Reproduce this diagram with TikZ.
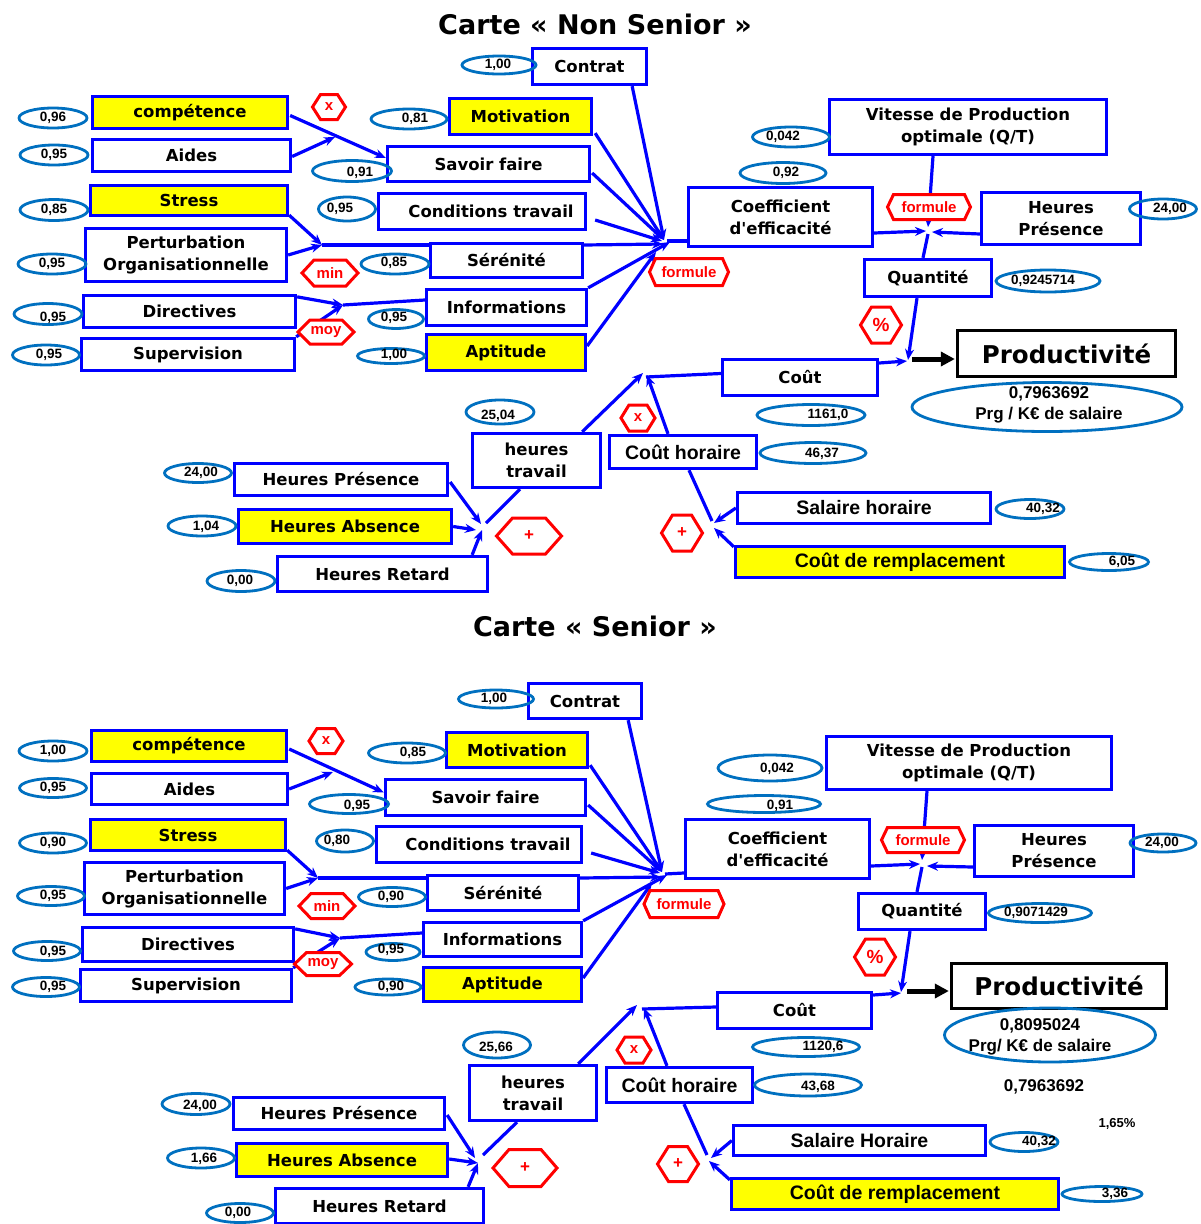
\documentclass[tikz,border=0pt]{standalone}
\usepackage{fontspec}
\setmainfont{DejaVu Sans}
\newfontfamily\libs{Liberation Sans}
\usetikzlibrary{shapes.geometric,arrows.meta,calc}
\definecolor{boxblue}{RGB}{0,0,255}
\definecolor{ellblue}{RGB}{0,112,192}
\definecolor{hexred}{RGB}{255,0,0}
\definecolor{yel}{RGB}{255,255,0}
\newcommand\apos{\XeTeXglyph\XeTeXglyphindex "quotesingle"\relax}
% box: style, name, x1, y1, x2, y2, text
\newcommand\bx[7]{\node[#1, minimum width={#5-#3-3}, minimum height={#6-#4-3}] (#2) at ({(#3+#5)/2},{(#4+#6)/2}) {#7};}
% ellipse: name, cx, cy, w, h, tx, ty, text
\newcommand\el[8]{\node[ell, minimum width={#4-3}, minimum height={#5-3}] (#1) at (#2,#3) {};\node[num] (#1t) at (#6,#7) {#8};}
% hexagon: name, cx, cy, w, h, depth, text
\newcommand\hx[7]{\path[hex] ({#2-(#4-3)/2},#3) -- ({#2-(#4-3)/2+#6},{#3-(#5-3)/2}) -- ({#2+(#4-3)/2-#6},{#3-(#5-3)/2}) -- ({#2+(#4-3)/2},#3) -- ({#2+(#4-3)/2-#6},{#3+(#5-3)/2}) -- ({#2-(#4-3)/2+#6},{#3+(#5-3)/2}) -- cycle;\node[hext] (#1) at (#2,#3) {#7};}
\begin{document}
\begin{tikzpicture}[x=1pt,y=-1pt,
  box/.style={draw=boxblue, line width=3.3pt, fill=white, inner sep=0pt, align=center, font=\bfseries\fontsize{16.5}{22}\selectfont},
  ybox/.style={box, fill=yel},
  abox/.style={box, font=\libs\bfseries\fontsize{19.5}{22}\selectfont},
  aybox/.style={abox, fill=yel},
  pbox/.style={box, draw=black, font=\bfseries\fontsize{24.5}{28}\selectfont},
  ell/.style={ellipse, draw=ellblue, line width=2.8pt, inner sep=0pt},
  num/.style={inner sep=0pt, font=\libs\bfseries\fontsize{13.5}{15}\selectfont},
  bignum/.style={inner sep=0pt, align=center, font=\libs\bfseries\fontsize{17}{21.5}\selectfont},
  hex/.style={draw=hexred, line width=3pt, fill=white},
  hext/.style={inner sep=0pt, text=hexred, font=\libs\bfseries\fontsize{15}{16}\selectfont},
  arr/.style={draw=boxblue, line width=3.2pt, -{Stealth[length=11pt,width=9pt]}},
  ln/.style={draw=boxblue, line width=3.2pt},
  blk/.style={draw=black, line width=5pt, -{Triangle[length=14pt,width=14pt]}},
  title/.style={inner sep=0pt, font=\bfseries\fontsize{27}{30}\selectfont}]
\useasboundingbox (0,0) rectangle (1201,1224);
\clip (0,0) rectangle (1201,1224);
\fill[white] (0,0) rectangle (1201,1224);

%================ Non Senior =================
\node[title] (t1) at (595,24) {Carte « Non Senior »};
\bx{box}{contrat}{531}{47}{648}{86}{Contrat}
\bx{ybox}{comp}{91}{95}{289}{130}{compétence}
\bx{box}{aides}{91}{138}{292}{173}{Aides}
\bx{ybox}{stress}{89}{184}{289}{217}{Stress}
\bx{box}{pert}{84}{227}{288}{283}{Perturbation\\Organisationnelle}
\bx{box}{direc}{82}{294}{297}{329}{Directives}
\bx{box}{superv}{80}{337}{296}{372}{Supervision}
\bx{ybox}{motiv}{448}{97}{593}{136}{Motivation}
\bx{box}{savoir}{386}{145}{591}{183}{Savoir faire}
\bx{box}{cond}{377}{192}{587}{231}{\hspace*{18pt}Conditions travail}
\bx{box}{seren}{429}{242}{584}{279}{Sérénité}
\bx{box}{infos}{425}{288}{588}{327}{Informations}
\bx{ybox}{apti}{425}{333}{587}{372}{Aptitude}
\bx{box}{coef}{687}{186}{874}{248}{Coefficient\\d\apos efficacité}
\bx{box}{vitesse}{828}{98}{1108}{156}{Vitesse de Production\\optimale (Q/T)}
\bx{box}{hpres}{980}{191}{1142}{246}{Heures\\Présence}
\bx{box}{quant}{863}{258}{993}{298}{Quantité}
\bx{pbox}{prod}{956}{329}{1177}{378}{Productivité}
\bx{box}{cout}{721}{358}{879}{397}{Coût}
\bx{box}{htrav}{471}{432}{602}{489}{heures\\travail}
\bx{abox}{couth}{608}{434}{758}{470}{Coût horaire}
\bx{box}{hpresb}{233}{462}{449}{497}{Heures Présence}
\bx{ybox}{habs}{237}{508}{453}{545}{Heures Absence}
\bx{box}{hret}{276}{555}{489}{593}{Heures Retard}
\bx{abox}{salh}{736}{491}{992}{525}{Salaire horaire}
\bx{aybox}{crempl}{734}{545}{1066}{579}{Coût de remplacement}

\coordinate (j1) at (335,137);
\coordinate (j2) at (322,245);
\coordinate (j3) at (343,305);
\coordinate (hub) at (664,240);
\coordinate (j4) at (928,230);
\coordinate (j5) at (908,360);
\coordinate (j6) at (481,526);
\coordinate (j7) at (645,374);
\coordinate (j8) at (713,525);

\draw[arr] ($(comp.east)+(1,3)$) -- ($(savoir.west)+(0,-6)$);
\draw[arr] ($(aides.east)+(0,1)$) -- (j1);
\draw[arr] ($(stress.south east)+(0,-2)$) -- (j2);
\draw[arr] (pert.east) -- (j2);
\draw[ln] (j2) -- ($(seren.west)+(0,-15.5)$);
\draw[arr] ($(seren.east)+(0,-15.5)$) -- ($(hub)+(-1,4)$);
\draw[arr] ($(direc.north east)+(0,3)$) -- (j3);
\draw[arr] (superv.north east) -- (j3);
\draw[ln] (j3) -- ($(infos.west)+(0,-7.5)$);
\draw[arr] ($(contrat.south east)+(-16,0)$) -- (hub);
\draw[arr] ($(motiv.south east)+(2,-3)$) -- (hub);
\draw[arr] ($(savoir.east)+(1,9)$) -- (hub);
\draw[arr] ($(cond.east)+(8,8.5)$) -- ($(hub)+(-2,1)$);
\draw[arr] (infos.north east) -- ($(hub)+(6,2)$);
\draw[arr] ($(apti.east)+(0,-6.5)$) -- ($(hub)+(-8,12)$);
\draw[ln] ($(hub)+(3,1)$) -- ($(coef.west)+(0,24)$);
\draw[arr] ($(vitesse.south)+(-35,0)$) -- ($(j4)+(0,-3)$);
\draw[arr] ($(coef.east)+(0,16)$) -- ($(j4)+(-2,1)$);
\draw[arr] ($(hpres.west)+(0,15.5)$) -- ($(j4)+(4,2)$);
\draw[ln] ($(j4)+(0,4)$) -- ($(quant.north)+(-5,0)$);
\draw[arr] ($(quant.south)+(-11,0)$) -- (j5);
\draw[arr] ($(cout.east)+(0,-14.5)$) -- ($(j5)+(-1,1)$);
\draw[blk] ($(j5)+(4,-1)$) -- ($(prod.west)+(-1,5.5)$);
\draw[arr] ($(hpresb.east)+(1,2.5)$) -- ($(j6)+(0,-2)$);
\draw[arr] (habs.east) -- ($(j6)+(-5,4)$);
\draw[arr] ($(hret.north east)+(-17,0)$) -- ($(j6)+(1,4)$);
\draw[ln] ($(j6)+(5,-3)$) -- ($(htrav.south)+(-16.5,0)$);
\draw[arr] ($(htrav.north east)+(-20,0)$) -- ($(j7)+(-2,-1)$);
\draw[arr] ($(couth.north)+(-15,0)$) -- ($(j7)+(2,1)$);
\draw[ln] ($(cout.west)+(0,-4)$) -- ($(j7)+(1,3)$);
\draw[arr] (salh.west) -- ($(j8)+(1,-2)$);
\draw[arr] ($(crempl.north west)+(0,2)$) -- ($(j8)+(1,3)$);
\draw[ln] ($(j8)+(-1,-4)$) -- ($(couth.south)+(6,0)$);

\el{ea1}{53}{118}{71}{23}{53}{118}{0,96}
\el{ea2}{54}{155}{71}{23}{54}{155}{0,95}
\el{ea3}{54}{210}{71}{24}{54}{210}{0,85}
\el{ea4}{52}{264}{71}{23}{52}{264}{0,95}
\el{ea5}{48}{314}{71}{24}{53}{318}{0,95}
\el{ea6}{46}{355}{70}{23}{49}{355}{0,95}
\el{ea7}{499}{65}{77}{21}{498}{65}{1,00}
\el{ea8}{409}{119}{79}{23}{415}{119}{0,81}
\el{ea9}{352}{171}{82}{24}{360}{173}{0,91}
\el{ea10}{347}{209}{60}{27}{340}{209}{0,95}
\el{ea11}{395}{264}{71}{23}{394}{263}{0,85}
\el{ea12}{396}{319}{58}{22}{394}{318}{0,95}
\el{ea13}{391}{356}{70}{18}{394}{355}{1,00}
\el{ea14}{791}{137}{80}{23}{783}{137}{0,042}
\el{ea15}{783}{173}{89}{24}{786}{173}{0,92}
\el{ea16}{1163}{209}{70}{23}{1170}{209}{24,00}
\el{ea17}{1048}{281}{107}{25}{1043}{281}{0,9245714}
\el{ea18}{811}{415}{111}{24}{828}{415}{1161,0}
\el{ea19}{813}{453}{109}{24}{822}{454}{46,37}
\el{ea20}{500}{412}{71}{27}{498}{416}{25,04}
\el{ea21}{198}{473}{70}{22}{201}{473}{24,00}
\el{ea22}{202}{526}{71}{23}{206}{527}{1,04}
\el{ea23}{241}{581}{71}{24}{240}{581}{0,00}
\el{ea24}{1030}{509}{71}{22}{1043}{509}{40,32}
\el{ea25}{1109}{562}{82}{20}{1122}{562}{6,05}
\node[ell, minimum width=270, minimum height=49] (big1) at (1047,407) {};
\node[bignum] (big1t) at (1049,405) {0,7963692\\Prg / K€ de salaire};

\hx{ha1}{329}{107}{36}{28}{8}{x}
\hx{ha2}{330}{273}{59}{29}{12}{min}
\hx{ha3}{326}{332}{59}{27}{12}{moy}
\hx{ha4}{689}{272}{82}{30}{6}{formule}
\hx{ha5}{929}{207}{86}{28}{6}{formule}
\hx{ha6}{881}{325}{44}{39}{11}{\fontsize{19}{20}\selectfont\%}
\hx{ha7}{638}{418}{37}{29}{8}{x}
\hx{ha8}{529}{536}{68}{39}{16}{\fontsize{17}{18}\selectfont+}
\hx{ha9}{682}{533}{44}{39}{11}{\fontsize{17}{18}\selectfont+}

%================ Senior =================
\node[title] (t2) at (595,626) {Carte « Senior »};
\bx{box}{contrat2}{527}{682}{643}{720}{Contrat}
\bx{ybox}{comp2}{90}{729}{288}{763}{compétence}
\bx{box}{aides2}{90}{772}{289}{806}{Aides}
\bx{ybox}{stress2}{89}{818}{287}{852}{Stress}
\bx{box}{pert2}{83}{861}{286}{916}{Perturbation\\Organisationnelle}
\bx{box}{direc2}{81}{926}{295}{963}{Directives}
\bx{box}{superv2}{79}{968}{293}{1003}{Supervision}
\bx{ybox}{motiv2}{445}{731}{589}{769}{Motivation}
\bx{box}{savoir2}{384}{778}{587}{817}{Savoir faire}
\bx{box}{cond2}{375}{825}{583}{864}{\hspace*{18pt}Conditions travail}
\bx{box}{seren2}{426}{874}{580}{912}{Sérénité}
\bx{box}{infos2}{422}{921}{583}{958}{Informations}
\bx{ybox}{apti2}{422}{966}{583}{1003}{Aptitude}
\bx{box}{coef2}{684}{818}{871}{880}{Coefficient\\d\apos efficacité}
\bx{box}{vitesse2}{825}{735}{1113}{791}{Vitesse de Production\\optimale (Q/T)}
\bx{box}{hpres3}{973}{824}{1135}{878}{Heures\\Présence}
\bx{box}{quant2}{857}{892}{987}{931}{Quantité}
\bx{pbox}{prod2}{950}{962}{1168}{1010}{Productivité}
\bx{box}{cout2}{716}{991}{873}{1030}{Coût}
\bx{box}{htrav2}{468}{1064}{598}{1122}{heures\\travail}
\bx{abox}{couth2}{605}{1066}{754}{1104}{Coût horaire}
\bx{box}{hpres4}{232}{1096}{446}{1131}{Heures Présence}
\bx{ybox}{habs2}{235}{1142}{449}{1178}{Heures Absence}
\bx{box}{hret2}{274}{1187}{485}{1225}{Heures Retard}
\bx{abox}{salh2}{732}{1124}{987}{1157}{Salaire Horaire}
\bx{aybox}{crempl2}{730}{1177}{1060}{1211}{Coût de remplacement}

\coordinate (k1) at (333,772);
\coordinate (k2) at (318,878);
\coordinate (k3) at (340,938);
\coordinate (hubb) at (662,872);
\coordinate (k4) at (922,863);
\coordinate (k5) at (901,992);
\coordinate (k6) at (478,1160);
\coordinate (k7) at (641,1007);
\coordinate (k8) at (709,1158);

\draw[arr] ($(comp2.east)+(1,3)$) -- ($(savoir2.west)+(0,-5)$);
\draw[arr] (aides2.east) -- (k1);
\draw[arr] ($(stress2.south east)+(0,-2)$) -- (k2);
\draw[arr] (pert2.east) -- (k2);
\draw[ln] (k2) -- ($(seren2.west)+(0,-15)$);
\draw[arr] ($(seren2.east)+(0,-15)$) -- ($(hubb)+(-1,5)$);
\draw[arr] ($(direc2.north east)+(0,3)$) -- (k3);
\draw[arr] (superv2.north east) -- (k3);
\draw[ln] (k3) -- ($(infos2.west)+(0,-6.5)$);
\draw[arr] ($(contrat2.south east)+(-15,0)$) -- (hubb);
\draw[arr] ($(motiv2.south east)+(1,-4)$) -- (hubb);
\draw[arr] ($(savoir2.east)+(1,7.5)$) -- (hubb);
\draw[arr] ($(cond2.east)+(8,8.5)$) -- ($(hubb)+(-2,1)$);
\draw[arr] (infos2.north east) -- ($(hubb)+(5,3)$);
\draw[arr] ($(apti2.east)+(0,-6.5)$) -- ($(hubb)+(-10,11)$);
\draw[ln] ($(hubb)+(3,2)$) -- ($(coef2.west)+(0,24)$);
\draw[arr] ($(vitesse2.south)+(-42,0)$) -- ($(k4)+(0,-3)$);
\draw[arr] ($(coef2.east)+(0,17)$) -- ($(k4)+(-2,1)$);
\draw[arr] ($(hpres3.west)+(0,16)$) -- ($(k4)+(5,3)$);
\draw[ln] ($(k4)+(0,4)$) -- ($(quant2.north)+(-5,0)$);
\draw[arr] ($(quant2.south)+(-12,0)$) -- (k5);
\draw[arr] ($(cout2.east)+(0,-15.5)$) -- ($(k5)+(0,1)$);
\draw[blk] ($(k5)+(6,-1)$) -- ($(prod2.west)+(-1,5)$);
\draw[arr] ($(hpres4.east)+(1,1.5)$) -- ($(k6)+(-3,-2)$);
\draw[arr] ($(habs2.east)+(0,-1)$) -- ($(k6)+(0,3)$);
\draw[arr] ($(hret2.north east)+(-17,0)$) -- ($(k6)+(0,3)$);
\draw[ln] ($(k6)+(5,-5)$) -- ($(htrav2.south)+(-16,0)$);
\draw[arr] ($(htrav2.north east)+(-20,0)$) -- ($(k7)+(-4,-2)$);
\draw[arr] ($(couth2.north)+(-12.5,0)$) -- ($(k7)+(3,1)$);
\draw[ln] ($(cout2.west)+(0,-3.5)$) -- ($(k7)+(1,2)$);
\draw[arr] (salh2.west) -- ($(k8)+(2,0)$);
\draw[arr] ($(crempl2.north west)+(0,3)$) -- ($(k8)+(0,3)$);
\draw[ln] ($(k8)+(-2,-3)$) -- ($(couth2.south)+(4.5,0)$);

\el{eb1}{53}{751}{71}{23}{53}{751}{1,00}
\el{eb2}{53}{788}{70}{22}{53}{788}{0,95}
\el{eb3}{53}{843}{70}{23}{53}{843}{0,90}
\el{eb4}{51}{896}{70}{22}{53}{896}{0,95}
\el{eb5}{47}{951}{70}{22}{53}{952}{0,95}
\el{eb6}{46}{987}{70}{22}{53}{987}{0,95}
\el{eb7}{496}{699}{78}{21}{494}{699}{1,00}
\el{eb8}{407}{753}{80}{23}{413}{753}{0,85}
\el{eb9}{349}{804}{82}{22}{357}{806}{0,95}
\el{eb10}{345}{841}{60}{25}{337}{841}{0,80}
\el{eb11}{392}{897}{70}{22}{391}{897}{0,90}
\el{eb12}{393}{952}{57}{20}{391}{950}{0,95}
\el{eb13}{388}{987}{69}{19}{391}{987}{0,90}
\el{eb14}{770}{768}{107}{29}{777}{769}{0,042}
\el{eb15}{764}{804}{116}{20}{780}{806}{0,91}
\el{eb16}{1163}{843}{69}{21}{1162}{843}{24,00}
\el{eb17}{1040}{913}{106}{22}{1036}{913}{0,9071429}
\el{eb18}{806}{1047}{110}{22}{823}{1047}{1120,6}
\el{eb19}{808}{1085}{110}{25}{818}{1087}{43,68}
\el{eb20}{497}{1045}{70}{29}{496}{1048}{25,66}
\el{eb21}{196}{1104}{71}{24}{200}{1106}{24,00}
\el{eb22}{201}{1158}{70}{23}{204}{1159}{1,66}
\el{eb23}{240}{1213}{70}{22}{238}{1213}{0,00}
\el{eb24}{1024}{1142}{71}{22}{1039}{1142}{40,32}
\el{eb25}{1102}{1194}{83}{18}{1115}{1194}{3,36}
\node[ell, minimum width=211, minimum height=54] (big2) at (1050,1035) {};
\node[bignum] (big2t) at (1040,1037) {0,8095024\\Prg/ K€ de salaire};
\node[bignum] (extra1) at (1044,1087) {0,7963692};
\node[num, font=\libs\bfseries\fontsize{13}{15}\selectfont] (extra2) at (1117,1124) {1,65\%};

\hx{hb1}{326}{741}{37}{28}{8}{x}
\hx{hb2}{327}{906}{59}{28}{12}{min}
\hx{hb3}{323}{964}{60}{26}{12}{moy}
\hx{hb4}{684}{904}{83}{30}{6}{formule}
\hx{hb5}{923}{840}{86}{28}{6}{formule}
\hx{hb6}{875}{957}{44}{39}{11}{\fontsize{19}{20}\selectfont\%}
\hx{hb7}{634}{1050}{37}{29}{8}{x}
\hx{hb8}{525}{1168}{67}{40}{16}{\fontsize{17}{18}\selectfont+}
\hx{hb9}{678}{1164}{44}{38}{11}{\fontsize{17}{18}\selectfont+}
\end{tikzpicture}
\end{document}
